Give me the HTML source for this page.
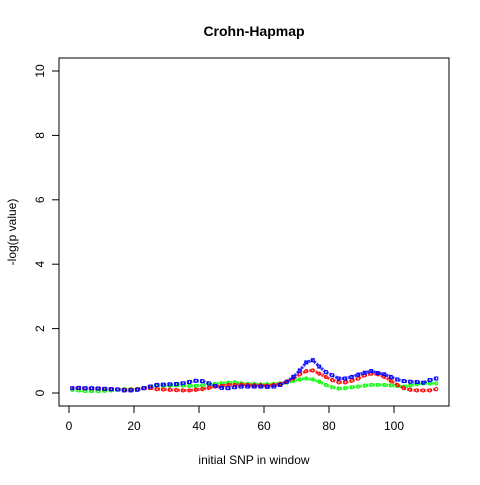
<!DOCTYPE html>
<html><head><meta charset="utf-8"><style>
body{margin:0;background:#fff;}
svg text{font-family:"Liberation Sans",Arial,sans-serif;}
</style></head><body>
<svg id="chart" width="480" height="480" xmlns="http://www.w3.org/2000/svg">
<rect width="480" height="480" fill="#fff"/>
<text x="254" y="36" text-anchor="middle" font-size="14" font-weight="bold">Crohn-Hapmap</text>
<rect x="59" y="58" width="390" height="348" fill="none" stroke="#000" stroke-width="1"/>
<text x="254" y="464" text-anchor="middle" font-size="12">initial SNP in window</text>
<text transform="translate(16,232) rotate(-90)" text-anchor="middle" font-size="12">-log(p value)</text>
<g id="axes"></g>
<g id="marks"></g>
</svg>
<script>
const xTicks=[0,20,40,60,80,100];
const yTicks=[0,2,4,6,8,10];
const blueVals=[.15,.16,.15,.15,.14,.13,.12,.11,.08,.08,.1,.15,.2,.25,.26,.27,.28,.3,.34,.38,.37,.3,.22,.16,.15,.18,.2,.2,.2,.2,.19,.2,.25,.35,.5,.7,.95,1.02,.82,.65,.55,.45,.45,.5,.57,.63,.68,.62,.58,.5,.42,.37,.35,.34,.32,.4,.45];
const redVals=[.15,.15,.14,.14,.13,.12,.12,.11,.1,.1,.12,.15,.15,.12,.11,.1,.09,.08,.08,.1,.12,.16,.2,.22,.25,.25,.26,.25,.24,.24,.23,.25,.28,.35,.45,.58,.68,.7,.6,.5,.4,.33,.33,.38,.45,.55,.6,.58,.5,.38,.25,.15,.1,.08,.08,.08,.12];
const greenVals=[.1,.08,.06,.06,.06,.07,.08,.1,.12,.12,.12,.15,.2,.22,.22,.23,.24,.23,.22,.22,.24,.26,.28,.3,.32,.33,.3,.28,.28,.27,.27,.28,.3,.32,.38,.42,.45,.42,.35,.25,.18,.14,.15,.18,.2,.23,.25,.25,.25,.24,.22,.2,.23,.27,.3,.3,.3];
const snpStart=1, snpStep=2;
const NS="http://www.w3.org/2000/svg";
function xs(v){return 69+3.25*v;}
function ys(v){return 393-32.2*v;}
const axes=document.getElementById('axes');
function mk(tag,attrs,parent){const e=document.createElementNS(NS,tag);for(const k in attrs)e.setAttribute(k,attrs[k]);parent.appendChild(e);return e;}
mk('line',{x1:xs(0),x2:xs(100),y1:406,y2:406,stroke:'#000'},axes);
xTicks.forEach(t=>{
  const l=mk('line',{x1:xs(t),x2:xs(t),y1:406,y2:413,stroke:'#000'},axes);
  
  
  const tx=mk('text',{x:xs(t),y:430,'text-anchor':'middle','font-size':'12'},axes);
  tx.textContent=t;
  
  
});
mk('line',{x1:59,x2:59,y1:ys(0),y2:ys(10),stroke:'#000'},axes);
yTicks.forEach(t=>{
  const l=mk('line',{x1:52,x2:59,y1:ys(t),y2:ys(t),stroke:'#000'},axes);
  
  
  const tx=mk('text',{transform:`translate(44,${ys(t)}) rotate(-90)`,'text-anchor':'middle','font-size':'12'},axes);
  tx.textContent=t;
  
  
});
const marks=document.getElementById('marks');
function series(vals,color,shape,name){
  const g=mk('g',{},marks);
  
  
  const pts=vals.map((v,i)=>xs(snpStart+i*snpStep).toFixed(1)+','+ys(v).toFixed(1)).join(' ');
  const pl=mk('polyline',{points:pts,fill:'none',stroke:color,'stroke-width':3,'stroke-dasharray':'2.2,1.1','stroke-opacity':0.8},g);
  
  
  vals.forEach((v,i)=>{
    const x=xs(snpStart+i*snpStep), y=ys(v);
    let e;
    if(shape==='sq') e=mk('rect',{x:x-1.5,y:y-1.5,width:3,height:3,fill:'none',stroke:color,'stroke-width':1},g);
    else e=mk('circle',{cx:x,cy:y,r:1.6,fill:'none',stroke:color,'stroke-width':1},g);
    
    
  });
}
series(greenVals,'#00ff00','c','series-green');
series(redVals,'#ff0000','c','series-red');
series(blueVals,'#0000ff','sq','series-blue');
</script>
</body></html>
